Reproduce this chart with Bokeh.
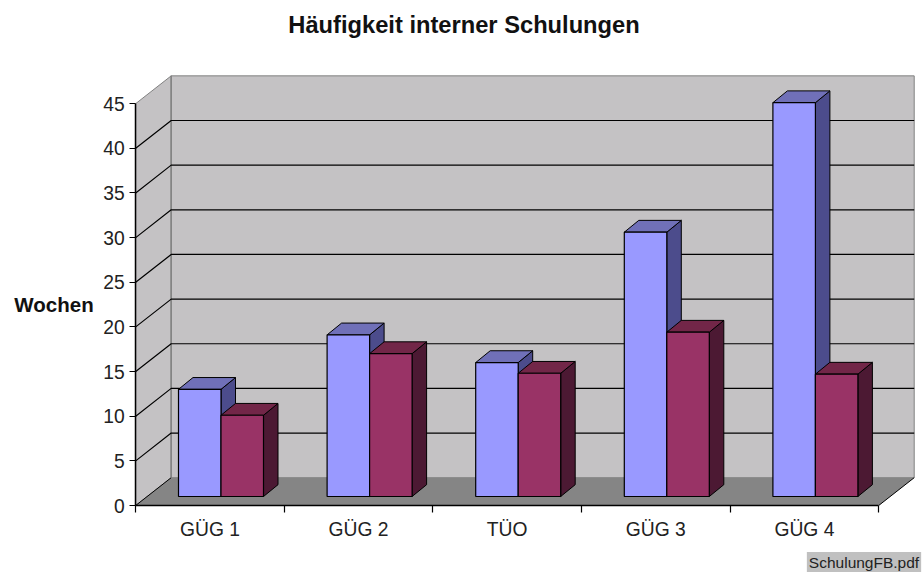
from bokeh.plotting import figure
from bokeh.models import LinearAxis, FixedTicker, Range1d, Label
from bokeh.embed import file_html
from bokeh.resources import INLINE

categories = ["GÜG 1", "GÜG 2", "TÜO", "GÜG 3", "GÜG 4"]
series_a = [12.0, 18.1, 15.0, 29.6, 44.1]
series_b = [9.1, 16.0, 13.8, 18.4, 13.7]
y_ticks = [0, 5, 10, 15, 20, 25, 30, 35, 40, 45]

W, H = 923, 572
X0, GW = 135.2, 148.6  # px of axis origin, px per group
Y0, VH = 505.0, 8.93   # px of value 0, px per unit

p = figure(width=W, height=H, output_backend="svg", toolbar_location=None,
           x_axis_type=None, y_axis_type=None,
           x_range=Range1d(-X0 / GW, (W - X0) / GW),
           y_range=Range1d(-(H - Y0) / VH, Y0 / VH),
           min_border=0, min_border_left=0, min_border_right=0,
           min_border_top=0, min_border_bottom=0, outline_line_color=None,
           border_fill_color="white", background_fill_color="white")
p.grid.visible = False

def dx(px): return px / GW
def dy(px): return px / VH

n = len(categories)
top = max(y_ticks)
wx, wy = dx(35.5), dy(27.8)
wall = "#c4c2c4"
edge = "#808080"

# walls and floor
p.patch([0, wx, wx, 0], [0, wy, top + wy, top], fill_color=wall, line_color=edge, line_width=1)
p.patch([wx, n + wx, n + wx, wx], [wy, wy, top + wy, top + wy], fill_color=wall, line_color=edge, line_width=1)
p.patch([0, wx, n + wx, n], [0, wy, wy, 0], fill_color="#858585", line_color=None)
p.line([0, wx], [0, wy], line_color="black", line_width=1)
p.line([n, n + wx], [0, wy], line_color="black", line_width=1)
p.line([wx, wx], [wy, top + wy], line_color=edge, line_width=1.2)

# gridlines
for v in y_ticks[1:-1]:
    p.line([0, wx, n + wx], [v, v + wy, v + wy], line_color="black", line_width=1.2)

# bars
bar_w = dx(42.5)
off_x, off_y = dx(11), dy(9.0)
bx, by = dx(14.5), dy(11.8)

def bars(values, shift, front, topc, side):
    xs = [i + 0.5 + off_x + shift for i in range(n)]
    base = off_y
    p.patches([[x + bar_w, x + bar_w + bx, x + bar_w + bx, x + bar_w] for x in xs],
              [[base, base + by, base + v + by, base + v] for v in values],
              fill_color=side, line_color="black", line_width=1)
    p.patches([[x, x + bx, x + bar_w + bx, x + bar_w] for x in xs],
              [[base + v, base + v + by, base + v + by, base + v] for v in values],
              fill_color=topc, line_color="black", line_width=1)
    p.quad(left=xs, right=[x + bar_w for x in xs], bottom=[base] * n,
           top=[base + v for v in values],
           fill_color=front, line_color="black", line_width=1.2)

bars(series_a, -bar_w, "#9999ff", "#7070b8", "#4c4c8c")
bars(series_b, 0, "#993366", "#722648", "#4c1933")

# axes
yaxis = LinearAxis(fixed_location=0, bounds=(0, top), ticker=FixedTicker(ticks=y_ticks),
                   axis_line_color="black", axis_line_width=1.5,
                   major_tick_line_color="black", major_tick_line_width=1.2,
                   major_tick_in=0, major_tick_out=6, minor_tick_line_color=None,
                   major_label_text_font="Liberation Sans",
                   major_label_text_font_size="19.3px", major_label_text_color="#222222",
                   major_label_standoff=5)
p.add_layout(yaxis, "left")

xaxis = LinearAxis(fixed_location=0, bounds=(0, n), ticker=FixedTicker(ticks=list(range(n + 1))),
                   axis_line_color="black", axis_line_width=1.5,
                   major_tick_line_color="black", major_tick_line_width=1.2,
                   major_tick_in=0, major_tick_out=7, minor_tick_line_color=None,
                   major_label_text_color=None)
p.add_layout(xaxis, "below")

caxis = LinearAxis(fixed_location=0, ticker=FixedTicker(ticks=[i + 0.5 for i in range(n)]),
                   major_label_overrides={i + 0.5: c for i, c in enumerate(categories)},
                   axis_line_color=None, major_tick_line_color=None, minor_tick_line_color=None,
                   major_tick_in=0, major_tick_out=0, major_label_standoff=13,
                   major_label_text_font="Liberation Sans",
                   major_label_text_font_size="19.3px", major_label_text_color="#222222")
p.add_layout(caxis, "below")

# texts (screen units measured from the bottom-left of the plot)
def sy(px): return H - px

p.add_layout(Label(x=463.5, y=sy(24.5), x_units="screen", y_units="screen", text="Häufigkeit interner Schulungen",
                   text_font="Liberation Sans", text_font_style="bold", text_font_size="23.7px",
                   text_align="center", text_baseline="middle", text_color="#111111"))
p.add_layout(Label(x=53.5, y=sy(303.5), x_units="screen", y_units="screen", text="Wochen",
                   text_font="Liberation Sans", text_font_style="bold", text_font_size="20.5px",
                   text_align="center", text_baseline="middle", text_color="#111111"))
p.add_layout(Label(x=863.5, y=sy(562), x_units="screen", y_units="screen", text="SchulungFB.pdf",
                   text_font="Liberation Sans", text_font_size="15.5px",
                   text_align="center", text_baseline="middle", text_color="#222222",
                   background_fill_color="#c0c0c0", padding=2))

open("out.html", "w").write(file_html(p, INLINE))
